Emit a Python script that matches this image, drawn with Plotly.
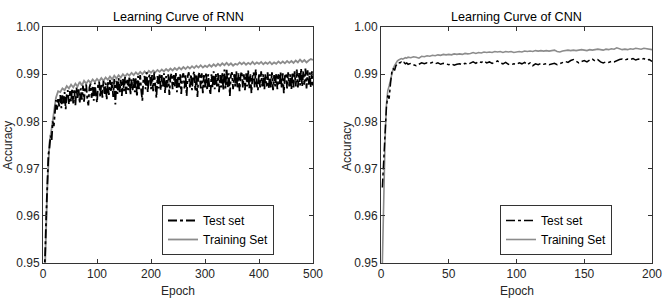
import plotly.graph_objects as go

# ---------------- data ----------------
rnn_test_epochs = list(range(0, 501, 2))
rnn_test = [
    0.9400, 0.9450, 0.9520, 0.9600, 0.9680, 0.9730, 0.9745, 0.9770, 0.9760, 0.9800,
    0.9790, 0.9830, 0.9845, 0.9825, 0.9850, 0.9832, 0.9856, 0.9828, 0.9858, 0.9838,
    0.9862, 0.9826, 0.9858, 0.9866, 0.9836, 0.9864, 0.9842, 0.9870, 0.9838, 0.9866,
    0.9834, 0.9872, 0.9848, 0.9868, 0.9838, 0.9870, 0.9846, 0.9876, 0.9842, 0.9870,
    0.9878, 0.9848, 0.9834, 0.9872, 0.9880, 0.9850, 0.9876, 0.9844, 0.9882, 0.9856,
    0.9840, 0.9878, 0.9884, 0.9852, 0.9880, 0.9850, 0.9886, 0.9858, 0.9882, 0.9846,
    0.9884, 0.9856, 0.9888, 0.9862, 0.9884, 0.9852, 0.9890, 0.9836, 0.9886, 0.9858,
    0.9892, 0.9862, 0.9888, 0.9854, 0.9890, 0.9864, 0.9894, 0.9858, 0.9888, 0.9866,
    0.9896, 0.9856, 0.9890, 0.9866, 0.9894, 0.9862, 0.9892, 0.9852, 0.9896, 0.9868,
    0.9898, 0.9864, 0.9844, 0.9892, 0.9896, 0.9868, 0.9904, 0.9862, 0.9894, 0.9900,
    0.9868, 0.9898, 0.9864, 0.9904, 0.9872, 0.9850, 0.9896, 0.9870, 0.9902, 0.9866,
    0.9898, 0.9874, 0.9902, 0.9860, 0.9896, 0.9872, 0.9900, 0.9856, 0.9894, 0.9902,
    0.9868, 0.9898, 0.9874, 0.9904, 0.9862, 0.9896, 0.9872, 0.9900, 0.9858, 0.9896,
    0.9902, 0.9870, 0.9898, 0.9854, 0.9896, 0.9904, 0.9872, 0.9900, 0.9866, 0.9898,
    0.9906, 0.9864, 0.9900, 0.9852, 0.9898, 0.9904, 0.9870, 0.9902, 0.9860, 0.9898,
    0.9872, 0.9904, 0.9866, 0.9900, 0.9874, 0.9856, 0.9900, 0.9872, 0.9906, 0.9868,
    0.9902, 0.9874, 0.9902, 0.9862, 0.9898, 0.9872, 0.9904, 0.9866, 0.9910, 0.9870,
    0.9912, 0.9872, 0.9902, 0.9854, 0.9898, 0.9904, 0.9868, 0.9900, 0.9874, 0.9906,
    0.9870, 0.9902, 0.9864, 0.9898, 0.9906, 0.9872, 0.9900, 0.9866, 0.9902, 0.9874,
    0.9908, 0.9870, 0.9900, 0.9860, 0.9896, 0.9904, 0.9872, 0.9910, 0.9876, 0.9866,
    0.9902, 0.9872, 0.9906, 0.9874, 0.9900, 0.9868, 0.9902, 0.9874, 0.9904, 0.9870,
    0.9900, 0.9872, 0.9904, 0.9866, 0.9898, 0.9874, 0.9902, 0.9868, 0.9900, 0.9876,
    0.9904, 0.9870, 0.9902, 0.9860, 0.9896, 0.9902, 0.9870, 0.9904, 0.9874, 0.9900,
    0.9868, 0.9904, 0.9872, 0.9906, 0.9874, 0.9910, 0.9872, 0.9904, 0.9876, 0.9912,
    0.9874, 0.9906, 0.9878, 0.9912, 0.9870, 0.9908, 0.9878, 0.9904, 0.9872, 0.9906,
    0.9876,
]

rnn_train_epochs = list(range(0, 501, 4))
rnn_train = [
    0.9400, 0.9500, 0.9660, 0.9755, 0.9785, 0.9815, 0.9850, 0.9864, 0.9862, 0.9870,
    0.9866, 0.9875, 0.9870, 0.9878, 0.9872, 0.9880, 0.9874, 0.9884, 0.9876, 0.9886,
    0.9880, 0.9887, 0.9882, 0.9889, 0.9884, 0.9890, 0.9885, 0.9892, 0.9886, 0.9893,
    0.9888, 0.9895, 0.9889, 0.9897, 0.9891, 0.9898, 0.9893, 0.9900, 0.9895, 0.9901,
    0.9897, 0.9903, 0.9898, 0.9904, 0.9899, 0.9905, 0.9900, 0.9906, 0.9901, 0.9907,
    0.9903, 0.9908, 0.9904, 0.9909, 0.9905, 0.9910, 0.9906, 0.9911, 0.9907, 0.9912,
    0.9908, 0.9913, 0.9909, 0.9914, 0.9910, 0.9915, 0.9911, 0.9916, 0.9912, 0.9917,
    0.9913, 0.9918, 0.9914, 0.9919, 0.9914, 0.9918, 0.9915, 0.9920, 0.9916, 0.9921,
    0.9917, 0.9922, 0.9918, 0.9923, 0.9919, 0.9924, 0.9919, 0.9923, 0.9918, 0.9922,
    0.9920, 0.9925, 0.9921, 0.9925, 0.9920, 0.9924, 0.9921, 0.9926, 0.9921, 0.9925,
    0.9922, 0.9926, 0.9921, 0.9925, 0.9922, 0.9926, 0.9921, 0.9925, 0.9922, 0.9927,
    0.9923, 0.9927, 0.9923, 0.9928, 0.9924, 0.9928, 0.9924, 0.9929, 0.9925, 0.9931,
    0.9926, 0.9930, 0.9925, 0.9929, 0.9932, 0.9930,
]

cnn_epochs = list(range(1, 21)) + list(range(22, 201, 2))
cnn_test = [
    0.9660, 0.9720, 0.9780, 0.9830, 0.9855, 0.9848, 0.9880, 0.9905, 0.9912, 0.9908,
    0.9918, 0.9922, 0.9925, 0.9924, 0.9926, 0.9923, 0.9925, 0.9922, 0.9924, 0.9921,
    0.9923, 0.9920, 0.9918, 0.9921, 0.9924, 0.9922, 0.9924, 0.9923, 0.9925, 0.9922,
    0.9924, 0.9921, 0.9923, 0.9922, 0.9920, 0.9922, 0.9919, 0.9921, 0.9922, 0.9920,
    0.9923, 0.9921, 0.9924, 0.9926, 0.9923, 0.9927, 0.9925, 0.9928, 0.9924, 0.9926,
    0.9923, 0.9925, 0.9928, 0.9924, 0.9922, 0.9925, 0.9921, 0.9920, 0.9922, 0.9921,
    0.9924, 0.9922, 0.9925, 0.9920, 0.9924, 0.9918, 0.9922, 0.9920, 0.9923, 0.9921,
    0.9922, 0.9920, 0.9921, 0.9923, 0.9920, 0.9922, 0.9924, 0.9927, 0.9925, 0.9929,
    0.9931, 0.9928, 0.9924, 0.9927, 0.9929, 0.9926, 0.9930, 0.9932, 0.9928, 0.9931,
    0.9926, 0.9924, 0.9926, 0.9925, 0.9927, 0.9926, 0.9929, 0.9931, 0.9932, 0.9930,
    0.9932, 0.9931, 0.9933, 0.9930, 0.9932, 0.9931, 0.9933, 0.9930, 0.9931, 0.9927,
]
cnn_train = [
    0.9500, 0.9660, 0.9760, 0.9835, 0.9865, 0.9875, 0.9890, 0.9902, 0.9912, 0.9918,
    0.9924, 0.9928, 0.9930, 0.9931, 0.9933, 0.9932, 0.9934, 0.9935, 0.9934, 0.9936,
    0.9935, 0.9937, 0.9936, 0.9934, 0.9938, 0.9937, 0.9939, 0.9938, 0.9940, 0.9939,
    0.9941, 0.9940, 0.9942, 0.9941, 0.9942, 0.9941, 0.9943, 0.9942, 0.9943, 0.9942,
    0.9944, 0.9943, 0.9944, 0.9946, 0.9944, 0.9946, 0.9945, 0.9947, 0.9946, 0.9947,
    0.9946, 0.9948, 0.9947, 0.9948, 0.9946, 0.9948, 0.9947, 0.9948, 0.9946, 0.9947,
    0.9948, 0.9947, 0.9949, 0.9948, 0.9949, 0.9948, 0.9950, 0.9949, 0.9950, 0.9949,
    0.9950, 0.9949, 0.9950, 0.9951, 0.9948, 0.9947, 0.9949, 0.9950, 0.9951, 0.9950,
    0.9951, 0.9950, 0.9951, 0.9952, 0.9951, 0.9950, 0.9952, 0.9951, 0.9952, 0.9953,
    0.9952, 0.9951, 0.9953, 0.9952, 0.9954, 0.9953, 0.9956, 0.9954, 0.9952, 0.9953,
    0.9952, 0.9954, 0.9953, 0.9955, 0.9954, 0.9953, 0.9955, 0.9954, 0.9953, 0.9952,
]

titles = ["Learning Curve of RNN", "Learning Curve of CNN"]
x_title = "Epoch"
y_title = "Accuracy"
y_ticks = [0.95, 0.96, 0.97, 0.98, 0.99, 1.00]
rnn_x_ticks = [0, 100, 200, 300, 400, 500]
cnn_x_ticks = [0, 50, 100, 150, 200]
legend_names = ["Test set", "Training Set"]

# ---------------- figure ----------------
W, H = 664, 303
FONT = "Liberation Sans, Arial, sans-serif"
TEST_COLOR = "#000000"
TRAIN_COLOR = "#8c8c8c"
AX_COLOR = "#333333"
TXT_COLOR = "#262626"

fig = go.Figure()

fig.add_trace(go.Scatter(x=rnn_train_epochs, y=rnn_train, mode="lines", name=legend_names[1],
                         line=dict(color=TRAIN_COLOR, width=1.8), xaxis="x", yaxis="y",
                         legend="legend", legendrank=2))
fig.add_trace(go.Scatter(x=rnn_test_epochs, y=rnn_test, mode="lines", name=legend_names[0],
                         line=dict(color=TEST_COLOR, width=1.8, dash="dashdot"), xaxis="x", yaxis="y",
                         legend="legend", legendrank=1))
fig.add_trace(go.Scatter(x=cnn_epochs, y=cnn_train, mode="lines", name=legend_names[1],
                         line=dict(color=TRAIN_COLOR, width=1.6), xaxis="x2", yaxis="y2",
                         legend="legend2", legendrank=2))
fig.add_trace(go.Scatter(x=cnn_epochs, y=cnn_test, mode="lines", name=legend_names[0],
                         line=dict(color=TEST_COLOR, width=1.5, dash="dashdot"), xaxis="x2", yaxis="y2",
                         legend="legend2", legendrank=1))

def px_x(p):
    return p / W

def px_y(p):
    return 1 - p / H

ydom = [px_y(263), px_y(27)]
xdom1 = [px_x(43), px_x(313)]
xdom2 = [px_x(381), px_x(652)]

axis_common = dict(showline=True, linecolor=AX_COLOR, linewidth=1, mirror="ticks",
                   ticks="inside", ticklen=4, tickcolor=AX_COLOR, showgrid=False, zeroline=False,
                   automargin=False,
                   tickfont=dict(family=FONT, size=12, color=TXT_COLOR))

def text_ann(text, x, y, angle=0, color=TXT_COLOR, size=12):
    return dict(text=text, x=px_x(x), y=px_y(y), xref="paper", yref="paper",
                showarrow=False, xanchor="center", yanchor="middle", textangle=angle,
                font=dict(family=FONT, size=size, color=color))

fig.update_layout(
    width=W, height=H,
    margin=dict(l=0, r=0, t=0, b=0, autoexpand=False),
    paper_bgcolor="white", plot_bgcolor="white",
    font=dict(family=FONT, size=12, color=TXT_COLOR),
    xaxis=dict(domain=xdom1, anchor="y", range=[0, 500], tickvals=rnn_x_ticks, **axis_common),
    yaxis=dict(domain=ydom, anchor="x", range=[0.95, 1.0], tickvals=y_ticks, tickformat=".2f",
               **axis_common),
    xaxis2=dict(domain=xdom2, anchor="y2", range=[0, 200], tickvals=cnn_x_ticks, **axis_common),
    yaxis2=dict(domain=ydom, anchor="x2", range=[0.95, 1.0], tickvals=y_ticks, tickformat=".2f",
                **axis_common),
    legend=dict(x=px_x(162), y=px_y(205), xanchor="left", yanchor="top",
                bgcolor="white", bordercolor=AX_COLOR, borderwidth=1,
                font=dict(family=FONT, size=12, color="#000000"),
                tracegroupgap=0, itemwidth=30),
    legend2=dict(x=px_x(500), y=px_y(205), xanchor="left", yanchor="top",
                 bgcolor="white", bordercolor=AX_COLOR, borderwidth=1,
                 font=dict(family=FONT, size=12, color="#000000"),
                 tracegroupgap=0, itemwidth=30),
    annotations=[
        text_ann(titles[0], 178, 17, color="#000000", size=12.6),
        text_ann(titles[1], 516.5, 17, color="#000000", size=12.6),
        text_ann(x_title, 178, 291),
        text_ann(x_title, 516.5, 291),
        text_ann(y_title, 8, 146, angle=-90),
        text_ann(y_title, 347, 146, angle=-90),
    ],
)

# remove the browser's default 8 px body margin so the figure fills the window
fig.write_html("out.html", config={"displayModeBar": False},
               post_script="document.body.style.margin='0px';")
